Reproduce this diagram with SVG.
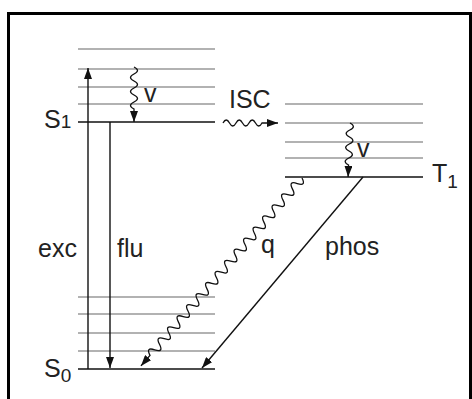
<svg xmlns="http://www.w3.org/2000/svg" width="472" height="399" viewBox="0 0 472 399">
<defs>
<marker id="ah" markerUnits="userSpaceOnUse" markerWidth="12" markerHeight="8" refX="11" refY="4" orient="auto">
<path d="M0,0 L11,4 L0,8 z" fill="#111"/>
</marker>
<style>
.lv{stroke:#666;stroke-width:1.2;fill:none}
.main{stroke:#111;stroke-width:1.7;fill:none}
.ar{stroke:#111;stroke-width:1.4;fill:none;marker-end:url(#ah)}
.wv{stroke:#111;stroke-width:1.3;fill:none;marker-end:url(#ah)}
text{font-family:"Liberation Sans",Arial,sans-serif;font-size:25px;fill:#222}
</style>
</defs>
<rect width="472" height="399" fill="#fff"/>
<path d="M8.5,399 V13.5 H470.5 V399" stroke="#000" stroke-width="3" fill="none"/>

<g id="S1">
<line class="lv" x1="78" y1="49" x2="215" y2="49"/>
<line class="lv" x1="78" y1="69" x2="215" y2="69"/>
<line class="lv" x1="78" y1="87" x2="215" y2="87"/>
<line class="lv" x1="78" y1="104" x2="215" y2="104"/>
<line class="main" x1="78" y1="122" x2="215" y2="122"/>
<text x="44" y="128">S<tspan font-size="19">1</tspan></text>
</g>

<g id="T1">
<line class="lv" x1="285" y1="104" x2="423" y2="104"/>
<line class="lv" x1="285" y1="123" x2="423" y2="123"/>
<line class="lv" x1="285" y1="142" x2="423" y2="142"/>
<line class="lv" x1="285" y1="158" x2="423" y2="158"/>
<line class="main" x1="285" y1="177" x2="423" y2="177"/>
<text x="432" y="182">T<tspan font-size="19" dy="6">1</tspan></text>
</g>

<g id="S0">
<line class="lv" x1="78" y1="297" x2="215" y2="297"/>
<line class="lv" x1="78" y1="314" x2="215" y2="314"/>
<line class="lv" x1="78" y1="333" x2="215" y2="333"/>
<line class="lv" x1="78" y1="351" x2="215" y2="351"/>
<line class="main" x1="78" y1="369" x2="215" y2="369"/>
<text x="44" y="377">S<tspan font-size="19" dy="5">0</tspan></text>
</g>

<g id="connectors">
<line class="ar" x1="88" y1="369" x2="88" y2="68"/>
<line class="ar" x1="110" y1="122" x2="110" y2="368"/>
<line class="ar" x1="363" y1="177" x2="202" y2="368"/>
<path class="wv" transform="translate(134,67) rotate(90)" d="M0,0 q3.5,-7 7,0 t7,0 t7,0 t7,0 t7,0 t7,0 l13,0"/>
<path class="wv" transform="translate(350,123) rotate(92)" d="M0,0 q3.5,-7 7,0 t7,0 t7,0 t7,0 t7,0 t7,0 l12,0"/>
<path class="wv" transform="translate(223,123)" d="M0,0 q3.25,-6 6.5,0 t6.5,0 t6.5,0 t6.5,0 t6.5,0 t6.5,0 l16,0"/>
<path class="wv" transform="translate(302,178) rotate(130.6)" d="M0,0 q3.65,-9 7.3,0 t7.3,0 t7.3,0 t7.3,0 t7.3,0 t7.3,0 t7.3,0 t7.3,0 t7.3,0 t7.3,0 t7.3,0 t7.3,0 t7.3,0 t7.3,0 t7.3,0 t7.3,0 t7.3,0 t7.3,0 t7.3,0 t7.3,0 t7.3,0 t7.3,0 t7.3,0 t7.3,0 t7.3,0 t7.3,0 t7.3,0 t7.3,0 t7.3,0 t7.3,0 t7.3,0 t7.3,0 l13.9,0"/>
</g>

<g id="labels">
<text x="144" y="102">v</text>
<text x="357" y="157">v</text>
<text x="229" y="108">ISC</text>
<text x="38" y="257">exc</text>
<text x="117" y="257">flu</text>
<text x="261" y="253">q</text>
<text x="325" y="255">phos</text>
</g>
</svg>
